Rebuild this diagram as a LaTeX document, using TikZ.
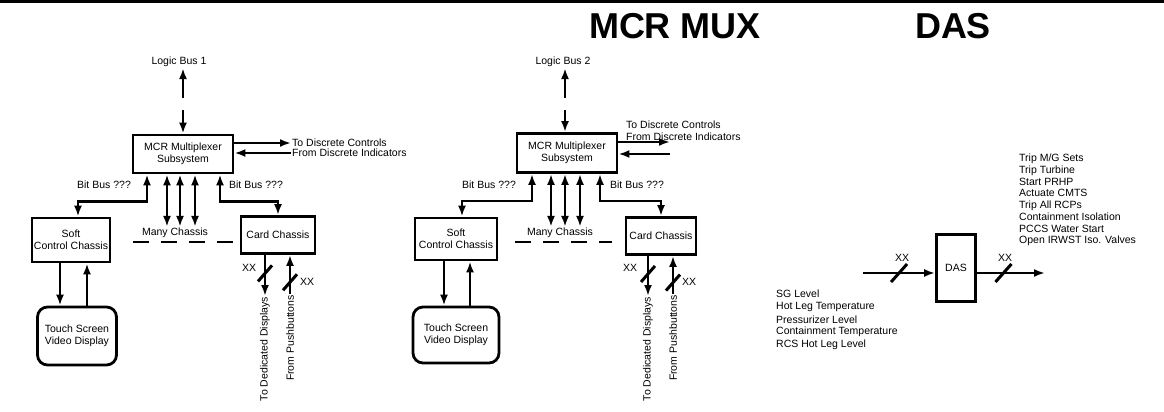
\documentclass[tikz,border=0pt]{standalone}
\usepackage{fontspec}
\setmainfont{Liberation Sans}
\usetikzlibrary{arrows.meta, positioning, calc}

\begin{document}
\begin{tikzpicture}[x=1pt, y=-1pt, >={Latex[length=11pt,width=8pt]},
            font=\fontsize{10.5}{12}\selectfont,
            b/.style={draw, line width=2.8pt, inner sep=0pt, minimum width=78pt, minimum height=40pt, align=center},
            rb/.style={b, rounded corners=10pt},
            lbl/.style={inner sep=1pt},
            ttl/.style={inner sep=0pt, font=\fontsize{36}{40}\selectfont\bfseries},
            ar/.style={->, line width=2.6pt},
            br/.style={<->, line width=2.6pt},
            busmark/.style={line width=3pt},
            dashrow/.style={line width=2.2pt, dash pattern=on 16pt off 12pt}]
            \useasboundingbox (0,0) rectangle (1164,412);
            \draw[line width=3pt] (0,1.5) -- (1164,1.5);
            \node[ttl] (mux) at (675,26) {MCR MUX};
            \node[ttl] (das) at (953,26) {DAS};

            % first multiplexer
            \node[lbl] (lb1) at (179,62) {Logic Bus 1};
            \node[b, minimum width=100pt, minimum height=38pt] (mcr1) at (183,154) {MCR Multiplexer\\Subsystem};
            \node[b, minimum height=44pt] (soft1) at (71,240) {Soft\\Control Chassis};
            \node[rb, minimum width=79pt, minimum height=58pt] (touch1) at (77,336) {Touch Screen\\Video Display};
            \node[b, minimum width=74pt, minimum height=37pt] (card1) at (278,235) {Card Chassis};
            \node[lbl] (many1) at (175,233) {Many Chassis};
            \node[lbl] (bbl1) at (104,185) {Bit Bus ???};
            \node[lbl] (bbr1) at (256,185) {Bit Bus ???};
            \node[lbl, anchor=west] (tdc1) at (291,143) {To Discrete Controls};
            \node[lbl, anchor=west] (fdi1) at (291,153) {From Discrete Indicators};
            \node[lbl, rotate=90, anchor=east] (tdd1) at (265,296) {To Dedicated Displays};
            \node[lbl, rotate=90, anchor=east] (fpb1) at (290,294) {From Pushbuttons};
            \node[lbl] (xa1) at (249,268) {XX};
            \node[lbl] (xb1) at (307,282) {XX};
            \coordinate (lbu1) at (183,98);
            \coordinate (lbd1) at (183,110);
            \draw[ar] (lbu1) -- (lbu1 |- lb1.south);
            \draw[ar] (lbd1) -- (mcr1.north);
            \draw[ar] (mcr1.east |- tdc1) -- (tdc1.west);
            \draw[ar] (fdi1.west) -- (mcr1.east |- fdi1);
            \draw[br] ([xshift=-36pt]mcr1.south) -- ++(0,27) -| ([xshift=7pt]soft1.north);
            \draw[br] ([xshift=37pt]mcr1.south) -- ++(0,27) -| (card1.north);
            \draw[br] ([xshift=-16pt]mcr1.south) -- ([xshift=-16pt]mcr1.south |- many1.north);
            \draw[br] ([xshift=-3pt]mcr1.south) -- ([xshift=-3pt]mcr1.south |- many1.north);
            \draw[br] ([xshift=12pt]mcr1.south) -- ([xshift=12pt]mcr1.south |- many1.north);
            \coordinate (dl1) at (133,242);
            \coordinate (dr1) at (237,242);
            \draw[dashrow] (dl1) -- (dr1);
            \draw[ar] ([xshift=-11pt]soft1.south) -- ([xshift=-11pt]soft1.south |- touch1.north);
            \draw[ar] ([xshift=16pt]soft1.south |- touch1.north) -- ([xshift=16pt]soft1.south);
            \draw[ar] (card1.south -| tdd1.east) -- coordinate[pos=0.45] (m1) (tdd1.east);
            \draw[ar] (fpb1.east) -- coordinate[pos=0.3] (n1) (card1.south -| fpb1.east);
            \draw[busmark] ([shift={(-7,8)}]m1) -- ([shift={(7,-8)}]m1);
            \draw[busmark] ([shift={(-7,8)}]n1) -- ([shift={(7,-8)}]n1);

            % second multiplexer
            \begin{scope}[xshift=384pt]
            \node[lbl] (lb2) at (179,62) {Logic Bus 2};
            \node[b, minimum width=100pt, minimum height=39pt] (mcr2) at (183,153) {MCR Multiplexer\\Subsystem};
            \node[b, minimum width=82pt, minimum height=42pt] (soft2) at (72,239) {Soft\\Control Chassis};
            \node[rb, minimum width=86pt, minimum height=56pt] (touch2) at (72,335) {Touch Screen\\Video Display};
            \node[b, minimum width=70pt, minimum height=37pt] (card2) at (277,236) {Card Chassis};
            \node[lbl] (many2) at (176,233) {Many Chassis};
            \node[lbl] (bbl2) at (105,185) {Bit Bus ???};
            \node[lbl] (bbr2) at (253,185) {Bit Bus ???};
            \node[lbl, anchor=west] (tdc2) at (241,125) {To Discrete Controls};
            \node[lbl, anchor=west] (fdi2) at (241,137) {From Discrete Indicators};
            \node[lbl, rotate=90, anchor=east] (tdd2) at (264,296) {To Dedicated Displays};
            \node[lbl, rotate=90, anchor=east] (fpb2) at (289,294) {From Pushbuttons};
            \node[lbl] (xa2) at (246,268) {XX};
            \node[lbl] (xb2) at (305,282) {XX};
            \coordinate (lbu2) at (181,98);
            \coordinate (lbd2) at (181,110);
            \coordinate (dc2) at (286,142);
            \coordinate (di2) at (286,154);
            \draw[ar] (lbu2) -- (lbu2 |- lb2.south);
            \draw[ar] (lbd2) -- (lbd2 |- mcr2.north);
            \draw[ar] (mcr2.east |- dc2) -- (dc2);
            \draw[ar] (di2) -- (mcr2.east |- di2);
            \draw[br] ([xshift=-35pt]mcr2.south) -- ++(0,27) -| ([xshift=6pt]soft2.north);
            \draw[br] ([xshift=33pt]mcr2.south) -- ++(0,27) -| (card2.north);
            \draw[br] ([xshift=-16pt]mcr2.south) -- ([xshift=-16pt]mcr2.south |- many2.north);
            \draw[br] ([xshift=-2pt]mcr2.south) -- ([xshift=-2pt]mcr2.south |- many2.north);
            \draw[br] ([xshift=13pt]mcr2.south) -- ([xshift=13pt]mcr2.south |- many2.north);
            \coordinate (dl2) at (131,242);
            \coordinate (dr2) at (228,242);
            \draw[dashrow] (dl2) -- (dr2);
            \draw[ar] ([xshift=-12pt]soft2.south) -- ([xshift=-12pt]soft2.south |- touch2.north);
            \draw[ar] ([xshift=14pt]soft2.south |- touch2.north) -- ([xshift=14pt]soft2.south);
            \draw[ar] (card2.south -| tdd2.east) -- coordinate[pos=0.45] (m2) (tdd2.east);
            \draw[ar] (fpb2.east) -- coordinate[pos=0.3] (n2) (card2.south -| fpb2.east);
            \draw[busmark] ([shift={(-7,8)}]m2) -- ([shift={(7,-8)}]m2);
            \draw[busmark] ([shift={(-7,8)}]n2) -- ([shift={(7,-8)}]n2);
            \end{scope}

            % diverse actuation
            \node[b, minimum width=39pt, minimum height=67pt] (dasb) at (956,268) {DAS};
            \coordinate (din) at (863,273);
            \coordinate (dout) at (1045,273);
            \draw[ar] (din) -- coordinate[pos=0.5] (mi) (dasb.west |- din);
            \draw[ar] (dasb.east |- dout) -- coordinate[pos=0.39] (mo) (dout);
            \draw[busmark] ([shift={(-8,9)}]mi) -- ([shift={(8,-9)}]mi);
            \draw[busmark] ([shift={(-8,9)}]mo) -- ([shift={(8,-9)}]mo);
            \node[lbl] (xi) at (902,258) {XX};
            \node[lbl] (xo) at (1005,258) {XX};
            \node[lbl, anchor=north west, align=left, font=\fontsize{10.5}{11.7}\selectfont] (dasout) at (1018,153)
                {Trip M/G Sets\\Trip Turbine\\Start PRHP\\Actuate CMTS\\Trip All RCPs\\Containment Isolation\\PCCS Water Start\\Open IRWST Iso. Valves};
            \node[lbl, anchor=north west, align=left, font=\fontsize{10.5}{11.7}\selectfont] (dasin) at (775,289)
                {SG Level\\Hot Leg Temperature\\[2pt]Pressurizer Level\\Containment Temperature\\[1pt]RCS Hot Leg Level};
        \end{tikzpicture}
\end{document}
